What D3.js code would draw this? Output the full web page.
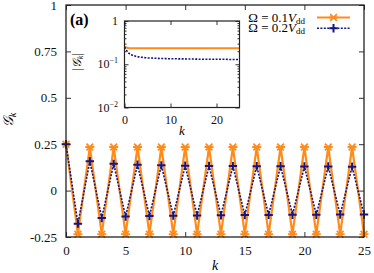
<!DOCTYPE html>
<html>
<head>
<meta charset="utf-8">
<script src="https://cdn.jsdelivr.net/npm/d3@7"></script>
<style>
  body { margin: 0; background: #fff; }
  svg text { font-family: "Liberation Serif", "Times New Roman", "DejaVu Serif", serif; }
</style>
</head>
<body>
<div id="chart"></div>
<script>
// k = 0 .. 25
const kValues = [0, 1, 2, 3, 4, 5, 6, 7, 8, 9, 10, 11, 12, 13, 14, 15, 16, 17, 18, 19, 20, 21, 22, 23, 24, 25];
// Omega = 0.1 Vdd
const gOmega01 = [0.25, -0.235, 0.235, -0.235, 0.235, -0.235, 0.235, -0.235, 0.235, -0.235, 0.235, -0.235, 0.235,
                  -0.235, 0.235, -0.235, 0.235, -0.235, 0.235, -0.235, 0.235, -0.235, 0.235, -0.235, 0.235, -0.235];
// Omega = 0.2 Vdd
const gOmega02 = [0.25, -0.178, 0.158, -0.148, 0.144, -0.140, 0.139, -0.137, 0.136, -0.135, 0.134, -0.134, 0.133,
                  -0.133, 0.132, -0.132, 0.131, -0.131, 0.131, -0.130, 0.130, -0.130, 0.130, -0.129, 0.129, -0.129];

const yTicks = [-0.25, 0, 0.25, 0.5, 0.75, 1];
const yTickLabels = ["-0.25", "0", "0.25", "0.5", "0.75", "1"];
const xTicks = [0, 5, 10, 15, 20, 25];
const insetXTicks = [0, 10, 20];
const insetYTicks = [1, 0.1, 0.01];

const ORANGE = "#ff8c1a";
const BLUE = "#16167f";
const SERIF = '"Liberation Serif", "Times New Roman", "DejaVu Serif", serif';
const W = 374, H = 273;

const svg = d3.select("#chart").append("svg")
  .attr("width", W).attr("height", H);

// ---------- main plot ----------
const x = d3.scaleLinear().domain([0, 25]).range([66, 364]);
const y = d3.scaleLinear().domain([-0.25, 1]).range([237, 5]);

const main = svg.append("g");

// ticks (inward, mirrored)
main.append("g").attr("transform", `translate(0,${y(-0.25)})`)
  .call(d3.axisBottom(x).tickValues(xTicks).tickSizeInner(-5).tickSizeOuter(0).tickPadding(9))
  .call(g => g.select(".domain").remove());
main.append("g").attr("transform", `translate(0,${y(1)})`)
  .call(d3.axisTop(x).tickValues(xTicks).tickSizeInner(-5).tickSizeOuter(0).tickFormat(""))
  .call(g => g.select(".domain").remove());
main.append("g").attr("transform", `translate(${x(0)},0)`)
  .call(d3.axisLeft(y).tickValues(yTicks).tickSizeInner(-5).tickSizeOuter(0).tickPadding(9)
    .tickFormat((d, i) => yTickLabels[i]))
  .call(g => g.select(".domain").remove());
main.append("g").attr("transform", `translate(${x(25)},0)`)
  .call(d3.axisRight(y).tickValues(yTicks).tickSizeInner(-5).tickSizeOuter(0).tickFormat(""))
  .call(g => g.select(".domain").remove());

main.selectAll(".tick line").attr("stroke", "#333");
main.selectAll(".tick text").attr("font-size", 13).style("font-family", SERIF).attr("fill", "#111");

// data lines
const line = d3.line().x((d, i) => x(kValues[i])).y(d => y(d));

main.append("path").datum(gOmega01)
  .attr("d", line).attr("fill", "none")
  .attr("stroke", ORANGE).attr("stroke-width", 2.2).attr("stroke-linejoin", "round");

main.append("path").datum(gOmega02)
  .attr("d", line).attr("fill", "none")
  .attr("stroke", BLUE).attr("stroke-width", 1.6).attr("stroke-dasharray", "2,1.4");

// markers
function star(g, cx, cy, r, color) {
  const a = r * 0.75;
  g.append("path")
    .attr("d", `M${cx - r},${cy}H${cx + r}M${cx - a},${cy - a}L${cx + a},${cy + a}M${cx - a},${cy + a}L${cx + a},${cy - a}`)
    .attr("stroke", color).attr("stroke-width", 1.8).attr("fill", "none");
}
function plus(g, cx, cy, r, color) {
  g.append("path")
    .attr("d", `M${cx - r},${cy}H${cx + r}M${cx},${cy - r}V${cy + r}`)
    .attr("stroke", color).attr("stroke-width", 2).attr("fill", "none");
}

const mk = main.append("g");
gOmega01.forEach((d, i) => star(mk, x(kValues[i]), y(d), 4.5, ORANGE));
gOmega02.forEach((d, i) => plus(mk, x(kValues[i]), y(d), 4.2, BLUE));

// frame
main.append("rect")
  .attr("x", x(0)).attr("y", y(1))
  .attr("width", x(25) - x(0)).attr("height", y(-0.25) - y(1))
  .attr("fill", "none").attr("stroke", "#222").attr("stroke-width", 1.3);

// axis labels
svg.append("text").attr("x", x(12.5)).attr("y", 270).style("font-family", SERIF)
  .attr("text-anchor", "middle").attr("font-style", "italic").attr("font-size", 14).text("k");

const yl = svg.append("text").attr("transform", "translate(13,120) rotate(-90)").style("font-family", SERIF)
  .attr("text-anchor", "middle").attr("font-size", 14);
yl.append("tspan").attr("font-style", "italic").text("𝒢");
yl.append("tspan").attr("font-style", "italic").attr("font-size", 10).attr("dy", 3).text("k");

// panel label
svg.append("text").attr("x", 70).attr("y", 25).style("font-family", SERIF)
  .attr("font-weight", "bold").attr("font-size", 16).text("(a)");

// legend
const legendItems = [
  { name: "0.1", color: ORANGE, marker: star, r: 4.5, dash: null, w: 2.2 },
  { name: "0.2", color: BLUE, marker: plus, r: 4.2, dash: "2,1.4", w: 1.6 }
];
const lg = svg.append("g");
legendItems.forEach((d, i) => {
  const ly = 17.5 + i * 10.8;
  const t = lg.append("text").attr("x", 305).attr("y", ly + 4).style("font-family", SERIF)
    .attr("text-anchor", "end").attr("font-size", 13);
  t.append("tspan").text(`Ω = ${d.name}`);
  t.append("tspan").attr("font-style", "italic").text("V");
  t.append("tspan").attr("font-size", 9).attr("dy", 2).text("dd");
  lg.append("line").attr("x1", 317).attr("x2", 350).attr("y1", ly).attr("y2", ly)
    .attr("stroke", d.color).attr("stroke-width", d.w).attr("stroke-dasharray", d.dash);
  d.marker(lg, 333.5, ly, d.r, d.color);
});

// ---------- inset ----------
const ix = d3.scaleLinear().domain([0, 25]).range([124.5, 239.5]);
const iy = d3.scaleLog().domain([0.01, 1]).range([107.5, 21]);
const inset = svg.append("g");

inset.append("rect").attr("x", ix(0)).attr("y", iy(1))
  .attr("width", ix(25) - ix(0)).attr("height", iy(0.01) - iy(1)).attr("fill", "#fff");

const minorY = [];
[0.01, 0.1].forEach(b => [2, 3, 4, 5, 6, 7, 8, 9].forEach(m => minorY.push(b * m)));

inset.append("g").attr("transform", `translate(0,${iy(0.01)})`)
  .call(d3.axisBottom(ix).tickValues(insetXTicks).tickSizeInner(-4).tickSizeOuter(0).tickPadding(8).tickFormat(d3.format("d")))
  .call(g => g.select(".domain").remove());
inset.append("g").attr("transform", `translate(0,${iy(1)})`)
  .call(d3.axisTop(ix).tickValues(insetXTicks).tickSizeInner(-4).tickSizeOuter(0).tickFormat(""))
  .call(g => g.select(".domain").remove());
[["axisLeft", ix(0)], ["axisRight", ix(25)]].forEach(([ax, px]) => {
  inset.append("g").attr("transform", `translate(${px},0)`)
    .call(d3[ax](iy).tickValues(insetYTicks).tickSizeInner(-4).tickSizeOuter(0).tickFormat(""))
    .call(g => g.select(".domain").remove());
  inset.append("g").attr("transform", `translate(${px},0)`)
    .call(d3[ax](iy).tickValues(minorY).tickSizeInner(-2).tickSizeOuter(0).tickFormat(""))
    .call(g => g.select(".domain").remove());
});
inset.selectAll(".tick line").attr("stroke", "#333");
inset.selectAll(".tick text").attr("font-size", 12).style("font-family", SERIF).attr("fill", "#111");

// inset y labels
const iyl = inset.append("g");
insetYTicks.forEach(v => {
  const t = iyl.append("text").attr("x", 118).attr("y", iy(v) + 4).style("font-family", SERIF)
    .attr("text-anchor", "end").attr("font-size", 12).attr("fill", "#111");
  if (v === 1) { t.text("1"); return; }
  t.append("tspan").text("10");
  t.append("tspan").attr("font-size", 8).attr("dy", -5).text(v === 0.1 ? "−1" : "−2");
});

const iline = d3.line().x((d, i) => ix(kValues[i])).y(d => iy(Math.abs(d)));
inset.append("path").datum(gOmega01).attr("d", iline).attr("fill", "none")
  .attr("stroke", ORANGE).attr("stroke-width", 2);
inset.append("path").datum(gOmega02).attr("d", iline.curve(d3.curveMonotoneX)).attr("fill", "none")
  .attr("stroke", BLUE).attr("stroke-width", 1.6).attr("stroke-dasharray", "2,1.4");

inset.append("rect").attr("x", ix(0)).attr("y", iy(1))
  .attr("width", ix(25) - ix(0)).attr("height", iy(0.01) - iy(1))
  .attr("fill", "none").attr("stroke", "#222").attr("stroke-width", 1.2);

inset.append("text").attr("x", ix(12.5)).attr("y", 135).style("font-family", SERIF)
  .attr("text-anchor", "middle").attr("font-style", "italic").attr("font-size", 13).text("k");

const iyLab = inset.append("text").attr("transform", "translate(81,62) rotate(-90)").style("font-family", SERIF)
  .attr("text-anchor", "middle").attr("font-size", 12);
iyLab.append("tspan").text("|");
iyLab.append("tspan").attr("font-style", "italic").text("𝒢");
iyLab.append("tspan").attr("font-style", "italic").attr("font-size", 8).attr("dy", 2).text("k");
iyLab.append("tspan").attr("dy", -2).text("|");
</script>
</body>
</html>
